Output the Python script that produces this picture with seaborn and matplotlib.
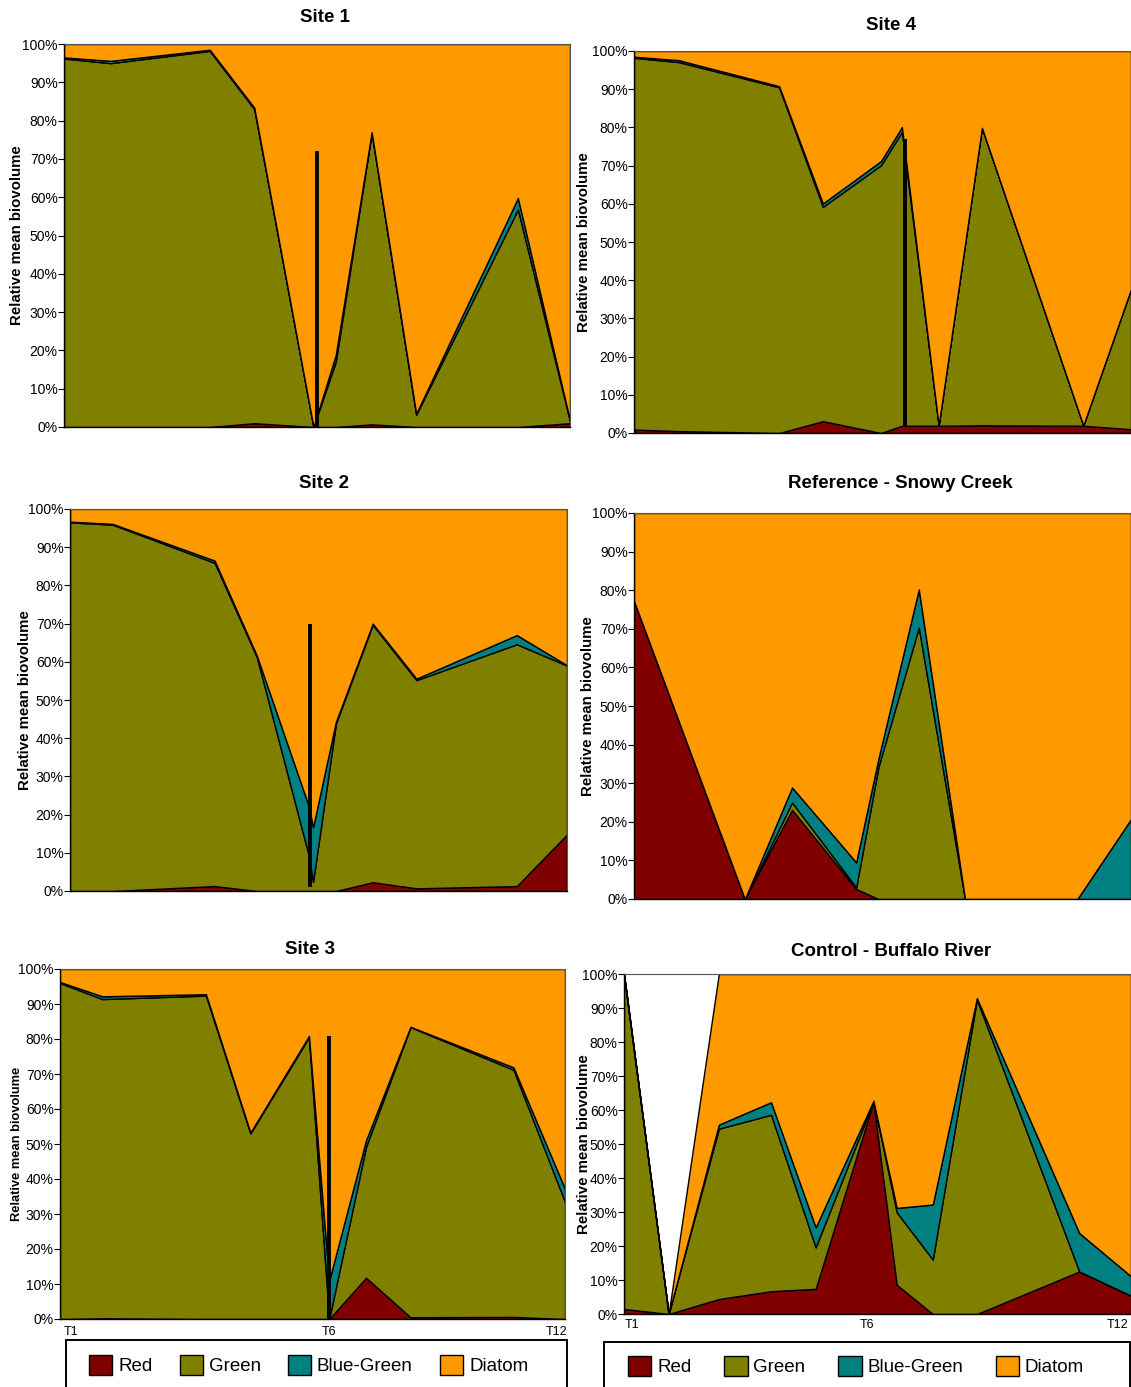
import numpy as np
import pandas as pd
import seaborn as sns
import matplotlib
matplotlib.use("Agg")
import matplotlib.pyplot as plt
import matplotlib.patches as mpatches
from matplotlib.ticker import PercentFormatter

# --- data: sampling time (% of study period) and relative biovolume (%) ---
groups = ["Red", "Green", "Blue-Green", "Diatom"]

site1_t = [0, 9.2, 28.8, 37.6, 49.3, 53.7, 60.8, 69.6, 89.7, 100]
site1_red = [0, 0, 0, 1.0, 0, 0, 0.7, 0, 0, 1.0]
site1_green = [96.2, 95.0, 98.2, 82.0, 0, 17.0, 76.0, 3.2, 56.8, 0.5]
site1_bluegreen = [0.3, 0.6, 0.3, 0.4, 0, 1.8, 0.3, 0.3, 3.0, 0.2]
site1_diatom = [3.5, 4.4, 1.5, 16.6, 100, 81.2, 23.0, 96.5, 40.2, 98.3]

site4_t = [0, 9.0, 29.2, 38.0, 49.7, 53.9, 61.3, 70.0, 90.4, 100]
site4_red = [0.9, 0.5, 0, 3.1, 0, 1.9, 1.9, 2.0, 1.9, 1.0]
site4_green = [97.3, 96.6, 90.5, 56.1, 70.1, 76.9, 0.1, 77.9, 0.1, 36.7]
site4_bluegreen = [0.3, 0.5, 0.3, 0.9, 1.1, 1.3, 0, 0, 0, 0]
site4_diatom = [1.5, 2.4, 9.2, 39.9, 28.8, 19.9, 98.0, 20.1, 98.0, 62.3]

site2_t = [0, 8.6, 29.1, 37.6, 48.1, 48.9, 53.5, 60.9, 69.7, 89.9, 100]
site2_red = [0, 0, 1.3, 0, 0, 0, 0, 2.3, 0.7, 1.3, 14.8]
site2_green = [96.5, 95.9, 84.6, 61.2, 9.0, 2.4, 43.8, 67.4, 54.5, 63.3, 44.2]
site2_bluegreen = [0.2, 0.2, 0.6, 0.4, 13.0, 14.3, 0.5, 0.3, 0.4, 2.4, 0.1]
site2_diatom = [3.3, 3.9, 13.5, 38.4, 78.0, 83.3, 55.7, 30.0, 44.4, 33.0, 40.9]

ref_t = [0, 22.3, 31.8, 44.7, 49.2, 57.3, 66.6, 89.2, 100]
ref_red = [77.2, 0, 23.1, 2.6, 0, 0, 0, 0, 0]
ref_green = [0, 0, 1.9, 0.4, 34.3, 70.3, 0, 0, 0]
ref_bluegreen = [0, 0, 3.9, 6.5, 2.2, 9.9, 0, 0, 20.7]
ref_diatom = [22.8, 100, 71.1, 90.5, 63.5, 19.8, 100, 100, 79.3]

site3_t = [0, 8.4, 28.9, 37.7, 49.3, 53.3, 60.6, 69.4, 89.8, 100]
site3_red = [0, 0.2, 0, 0, 0, 0, 11.8, 0.5, 0.6, 0]
site3_green = [96.0, 91.2, 92.4, 53.0, 80.5, 0, 37.4, 82.9, 70.6, 33.4]
site3_bluegreen = [0.3, 0.8, 0.4, 0.3, 0.4, 11.0, 1.9, 0.1, 0.7, 3.8]
site3_diatom = [3.7, 7.8, 7.2, 46.7, 19.1, 89.0, 48.9, 16.5, 28.1, 62.8]

control_t = [0, 8.8, 18.7, 29.0, 37.8, 49.2, 53.8, 60.9, 69.6, 89.8, 100]
control_red = [1.5, 0, 4.4, 6.7, 7.4, 62.5, 8.6, 0, 0, 12.5, 5.4]
control_green = [98.0, 0, 50.1, 51.9, 12.2, 0, 21.3, 16.0, 92.5, 0, 0]
control_bluegreen = [0.5, 0, 1.2, 3.7, 5.9, 0.2, 1.3, 16.2, 0.4, 11.3, 5.7]
control_diatom = [0, 0, 44.3, 37.7, 74.5, 37.3, 68.8, 67.8, 7.1, 76.2, 88.9]

# treatment marker (time, lower %, upper %)
site1_event = [50.0, 0, 72]
site4_event = [54.5, 1.6, 77]
site2_event = [48.2, 1, 70]
site3_event = [53.3, 0, 81]

time_labels = ["T1", "T6", "T12"]
site3_label_t = [2.2, 53.3, 98.4]
control_label_t = [1.6, 47.9, 97.4]

# --- style ---
sns.set_theme(style="ticks")
plt.rcParams["font.family"] = ["Liberation Sans", "DejaVu Sans"]
plt.rcParams.update({"text.color": "black", "axes.labelcolor": "black",
                     "xtick.color": "black", "ytick.color": "black"})
palette = dict(zip(groups, ["#800000", "#808000", "#008080", "#FF9900"]))

W, H = 1131, 1387
fig = plt.figure(figsize=(W / 100, H / 100), dpi=100)


def px_axes(left, right, top, bottom):
    return fig.add_axes([left / W, 1 - bottom / H, (right - left) / W, (bottom - top) / H])


def draw_panel(ax, t, red, green, bluegreen, diatom, event=None):
    df = pd.DataFrame({"t": t, "Red": red, "Green": green,
                       "Blue-Green": bluegreen, "Diatom": diatom})
    ax.stackplot(df["t"], *[df[g] for g in groups],
                 colors=[palette[g] for g in groups],
                 edgecolor="black", linewidth=1.0)
    if event is not None:
        ax.plot([event[0], event[0]], [event[1], event[2]], color="black",
                lw=2.8, solid_capstyle="butt", zorder=5)
    ax.set_xlim(0, 100)
    ax.set_ylim(0, 100)
    ax.set_yticks(np.arange(0, 101, 10))
    ax.yaxis.set_major_formatter(PercentFormatter(decimals=0))
    ax.tick_params(axis="y", length=4, width=0.8, pad=0.5, labelsize=10,
                   colors="black")
    ax.set_xticks([])
    for side in ["left", "bottom"]:
        ax.spines[side].set_color("black")
        ax.spines[side].set_linewidth(1.0)
    for side in ["top", "right"]:
        ax.spines[side].set_color("#555555")
        ax.spines[side].set_linewidth(0.8)
    ax.grid(False)


panels = [
    ("Site 1", (64, 570, 44, 427), (site1_t, site1_red, site1_green, site1_bluegreen, site1_diatom),
     site1_event, (325, 18), 17, 10.8),
    ("Site 4", (634, 1131, 51, 433), (site4_t, site4_red, site4_green, site4_bluegreen, site4_diatom),
     site4_event, (891, 25), 584, 10.8),
    ("Site 2", (70, 567, 509, 891), (site2_t, site2_red, site2_green, site2_bluegreen, site2_diatom),
     site2_event, (324, 484), 25, 10.8),
    ("Reference - Snowy Creek", (634, 1131, 513, 899), (ref_t, ref_red, ref_green, ref_bluegreen, ref_diatom),
     None, (900, 484), 588, 10.8),
    ("Site 3", (60, 565, 969, 1319), (site3_t, site3_red, site3_green, site3_bluegreen, site3_diatom),
     site3_event, (310, 949), 17, 9.3),
    ("Control - Buffalo River", (624, 1131, 974, 1314),
     (control_t, control_red, control_green, control_bluegreen, control_diatom),
     None, (891, 952), 584, 10.8),
]

axes = {}
for title, (l, r, tp, b), series, event, (tx, ty), ylx, ylsize in panels:
    ax = px_axes(l, r, tp, b)
    draw_panel(ax, *series, event=event)
    axes[title] = ax
    fig.text(tx / W, 1 - ty / H, title, ha="center", va="center",
             fontsize=13.5, fontweight="bold")
    fig.text(ylx / W, 1 - (tp + b) / 2 / H, "Relative mean biovolume",
             rotation=90, ha="center", va="center", fontsize=ylsize, fontweight="bold")

# time labels on the bottom row
for name, pos, pad in [("Site 3", site3_label_t, 5), ("Control - Buffalo River", control_label_t, 3.5)]:
    ax = axes[name]
    ax.set_xticks(pos)
    ax.set_xticklabels(time_labels)
    ax.tick_params(axis="x", length=0, pad=pad, labelsize=9)

# legends with frames running off the bottom of the figure
handles = [mpatches.Patch(facecolor=palette[g], edgecolor="black", linewidth=1.0, label=g)
           for g in groups]
for (x0, x1, top), (hx, hy), colsp in [((66, 567, 1340), (89, 1365), 1.45),
                                       ((604, 1130, 1342), (628, 1366), 1.75)]:
    fig.add_artist(mpatches.Rectangle((x0 / W, -0.05), (x1 - x0) / W, 1 - top / H + 0.05,
                                      transform=fig.transFigure, fill=False,
                                      edgecolor="black", linewidth=1.4, clip_on=False))
    fig.legend(handles=handles, loc="center left", bbox_to_anchor=(hx / W, 1 - hy / H),
               ncol=4, frameon=False, fontsize=13.5, handlelength=1.25, handleheight=1.3,
               handletextpad=0.3, columnspacing=colsp, borderpad=0, borderaxespad=0)

fig.savefig("out.png", dpi=100)
